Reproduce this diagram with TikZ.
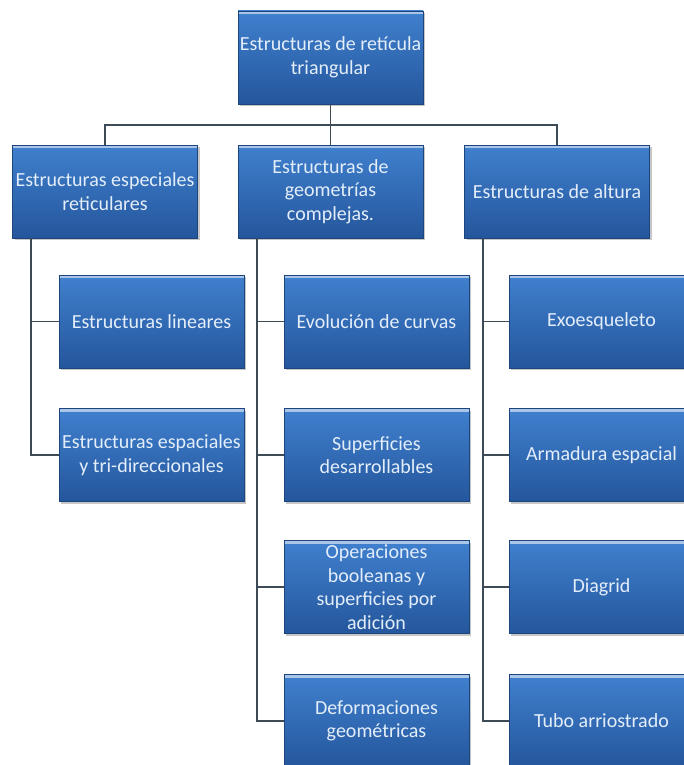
\documentclass[tikz,border=0pt]{standalone}
\usepackage{fontspec}
\setmainfont{Carlito}
\usepackage{tikz}
\usetikzlibrary{shadows}
\definecolor{boxtop}{RGB}{64,128,206}
\definecolor{boxbot}{RGB}{36,86,156}
\definecolor{boxtext}{RGB}{228,238,250}
\definecolor{linegray}{RGB}{62,74,86}

\tikzset{
  orgbox/.style={rectangle, draw=boxbot!80!black, line width=0.6pt,
    top color=boxtop, bottom color=boxbot, text=boxtext,
    minimum width=185pt, minimum height=93pt, inner sep=0pt, align=center,
    font=\fontsize{20}{23.5}\selectfont,
    drop shadow={shadow xshift=2pt, shadow yshift=-2pt, opacity=0.45},
    path picture={\draw[boxtop!45!white, line width=2.5pt]
      ([yshift=-2pt]path picture bounding box.north west) --
      ([yshift=-2pt]path picture bounding box.north east);}},
  conn/.style={draw=linegray, line width=1.6pt}
}

\begin{document}
\begin{tikzpicture}[x=1pt,y=-1pt]
\useasboundingbox (0,0) rectangle (684,765);
% root
\node[orgbox] (root) at (330.5,57.5) {Estructuras de retícula\\triangular};
% first level
\node[orgbox] (esp) at (105,191.5) {Estructuras especiales\\reticulares};
\node[orgbox] (geo) at (330.5,191.5) {Estructuras de\\geometrías\\complejas.};
\node[orgbox] (alt) at (557,191.5) {Estructuras de altura};
% second level
\node[orgbox] (lin) at (151.5,321.5) {Estructuras lineares};
\node[orgbox] (tri) at (151.5,455) {Estructuras espaciales\\y tri-direccionales};
\node[orgbox] (evo) at (376.5,321.5) {Evolución de curvas};
\node[orgbox] (sup) at (376.5,455) {Superficies\\desarrollables};
\node[orgbox] (ope) at (376.5,587) {Operaciones\\booleanas y\\superficies por\\adición};
\node[orgbox] (def) at (376.5,721) {Deformaciones\\geométricas};
\node[orgbox] (exo) at (601.5,321.5) {Exoesqueleto};
\node[orgbox] (arm) at (601.5,455) {Armadura espacial};
\node[orgbox] (dia) at (601.5,587) {Diagrid};
\node[orgbox] (tub) at (601.5,721) {Tubo arriostrado};
% connectors
\draw[conn] (root.south) -- ++(0,21) coordinate (bus) -| (esp.north);
\draw[conn] (bus) -| (geo.north);
\draw[conn] (bus) -| (alt.north);
\foreach \p/\c in {esp/lin,esp/tri,geo/evo,geo/sup,geo/ope,geo/def,alt/exo,alt/arm,alt/dia,alt/tub}
  \draw[conn] ([xshift=19pt]\p.south west) |- (\c.west);
\end{tikzpicture}
\end{document}
